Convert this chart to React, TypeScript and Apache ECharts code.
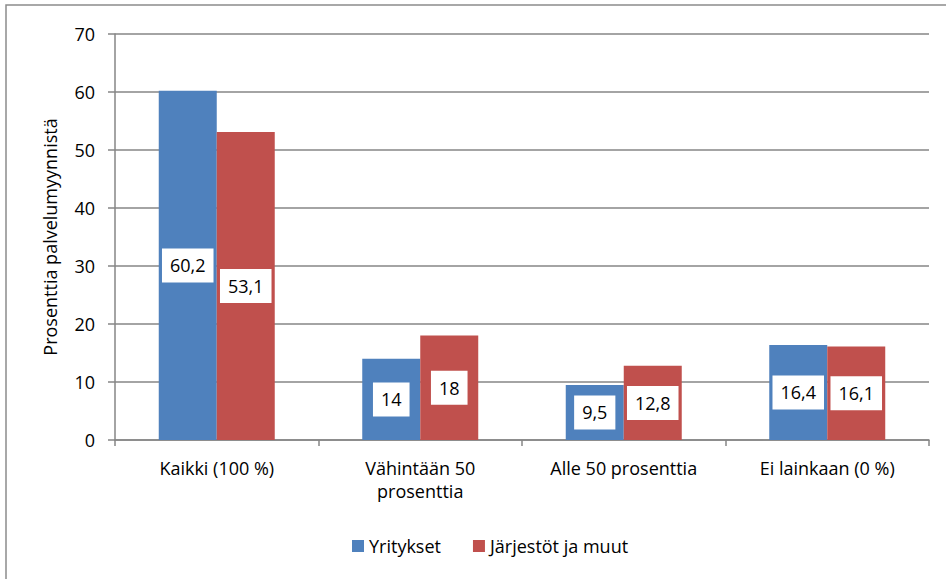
import React, { useEffect, useRef } from "react";
import * as echarts from "echarts";

const categories = ["Kaikki (100 %)", "Vähintään 50\nprosenttia", "Alle 50 prosenttia", "Ei lainkaan (0 %)"];
const seriesNames = ["Yritykset", "Järjestöt ja muut"];
const yritykset = [60.2, 14, 9.5, 16.4];
const jarjestot = [53.1, 18, 12.8, 16.1];
const yAxisName = "Prosenttia palvelumyynnistä";

const FONT = "Open Sans";

export default function App() {
  const ref = useRef<HTMLDivElement>(null);
  useEffect(() => {
    const chart = echarts.init(ref.current!, null, { renderer: "svg" });
    const label = {
      show: true,
      position: "inside",
      backgroundColor: "#ffffff",
      color: "#000000",
      fontFamily: FONT,
      fontSize: 18,
      lineHeight: 18,
      padding: [8, 8, 8, 8],
      formatter: (p: any) => String(p.value).replace(".", ","),
    };
    chart.setOption({
      animation: false,
      textStyle: { fontFamily: FONT },
      graphic: [
        {
          type: "rect",
          shape: { x: 6, y: 5, width: 1000, height: 700 },
          style: { fill: "none", stroke: "#8c8c8c", lineWidth: 1.5 },
          silent: true,
        },
      ],
      grid: { left: 115, right: 17, top: 34, bottom: 139, containLabel: false },
      legend: {
        data: seriesNames,
        top: 532,
        left: 347,
        itemWidth: 12,
        itemHeight: 12,
        itemGap: 32,
        icon: "rect",
        textStyle: { fontFamily: FONT, fontSize: 18, color: "#000" },
      },
      xAxis: {
        type: "category",
        data: categories,
        axisLine: { lineStyle: { color: "#868686", width: 1.5 } },
        axisTick: { show: true, length: 6, lineStyle: { color: "#868686", width: 1.5 } },
        axisLabel: { fontFamily: FONT, fontSize: 18, color: "#000", margin: 16, lineHeight: 23 },
      },
      yAxis: {
        type: "value",
        min: 0,
        max: 70,
        interval: 10,
        name: yAxisName,
        nameLocation: "middle",
        nameGap: 56,
        nameTextStyle: { fontFamily: FONT, fontSize: 18, color: "#000" },
        axisLine: { show: true, lineStyle: { color: "#868686", width: 1.5 } },
        axisTick: { show: true, length: 7, lineStyle: { color: "#868686", width: 1.5 } },
        axisLabel: { fontFamily: FONT, fontSize: 18, color: "#000", margin: 20 },
        splitLine: { lineStyle: { color: "#868686", width: 1.5 } },
      },
      series: [
        {
          name: seriesNames[0],
          type: "bar",
          data: yritykset,
          barCategoryGap: "43%",
          barGap: "0%",
          itemStyle: { color: "#4F81BD" },
          label,
        },
        {
          name: seriesNames[1],
          type: "bar",
          data: jarjestot,
          barCategoryGap: "43%",
          barGap: "0%",
          itemStyle: { color: "#C0504D" },
          label,
        },
      ],
    });
    return () => chart.dispose();
  }, []);
  return (
    <div
      ref={ref}
      style={{ position: "absolute", left: 0, top: 0, width: 946, height: 579, background: "#fff" }}
    />
  );
}
